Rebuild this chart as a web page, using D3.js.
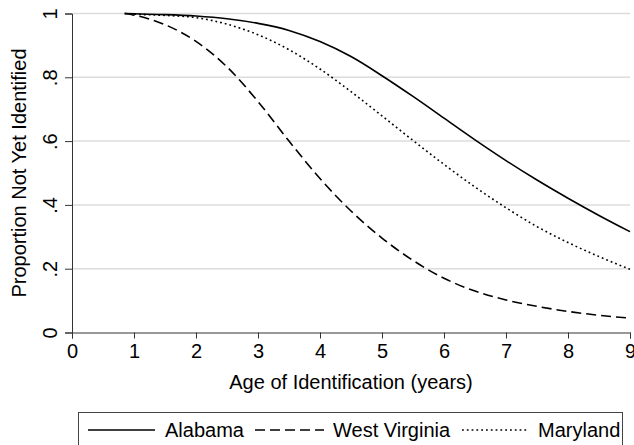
<!DOCTYPE html>
<html>
<head>
<meta charset="utf-8">
<script src="https://cdn.jsdelivr.net/npm/d3@7"></script>
<style>
  html, body { margin: 0; padding: 0; background: #fff; }
  svg text { font-family: "Liberation Sans", Arial, Helvetica, sans-serif; fill: #000; }
</style>
</head>
<body>
<svg id="chart" width="634" height="445"></svg>
<script>
// ---- data ----
const ages = [0.85, 1, 1.5, 2, 2.5, 3, 3.5, 4, 4.5, 5, 5.5, 6, 6.5, 7, 7.5, 8, 8.5, 9];
const alabama = [1.0, 0.999, 0.9965, 0.992, 0.9835, 0.969, 0.947, 0.912, 0.865, 0.805, 0.740, 0.672, 0.604, 0.539, 0.478, 0.421, 0.367, 0.316];
const westVirginia = [1.0, 0.995, 0.965, 0.9125, 0.8325, 0.724, 0.600, 0.4825, 0.381, 0.296, 0.226, 0.170, 0.130, 0.102, 0.082, 0.066, 0.054, 0.045];
const maryland = [1.0, 0.998, 0.994, 0.987, 0.9665, 0.9335, 0.8865, 0.826, 0.755, 0.679, 0.602, 0.527, 0.456, 0.391, 0.332, 0.282, 0.238, 0.198];
const seriesNames = ["Alabama", "West Virginia", "Maryland"];
const xTicks = [0, 1, 2, 3, 4, 5, 6, 7, 8, 9];
const yTicks = [0, 0.2, 0.4, 0.6, 0.8, 1];
const yTickLabels = ["0", ".2", ".4", ".6", ".8", "1"];
const xTitle = "Age of Identification (years)";
const yTitle = "Proportion Not Yet Identified";

// ---- drawing ----
const svg = d3.select("#chart");
const FS = 20;
const x = d3.scaleLinear().domain([0, 9]).range([72, 630]);
const y = d3.scaleLinear().domain([0, 1]).range([332.5, 13.5]);

// gridlines
svg.append("g").selectAll("line").data(yTicks.filter(d => d > 0)).join("line")
  .attr("x1", x(0)).attr("x2", x(9))
  .attr("y1", d => y(d)).attr("y2", d => y(d))
  .attr("stroke", "#dcdcdc").attr("stroke-width", 1.5);

// y axis
const yAxis = d3.axisLeft(y).tickValues(yTicks).tickFormat((d, i) => yTickLabels[i]).tickSize(7).tickPadding(8);
const gy = svg.append("g").attr("transform", `translate(${x(0)},0)`).call(yAxis);
gy.select(".domain").attr("stroke", "#333");
gy.selectAll(".tick line").attr("stroke", "#333");
gy.selectAll(".tick text")
  .attr("font-size", FS).attr("font-family", "Liberation Sans, Arial, sans-serif")
  .attr("x", null).attr("dy", null)
  .attr("text-anchor", "middle")
  .attr("transform", "translate(-15,0) rotate(-90)")
  .attr("y", 0);

// x axis
const xAxis = d3.axisBottom(x).tickValues(xTicks).tickFormat(d3.format("d")).tickSize(6).tickPadding(5);
const gx = svg.append("g").attr("transform", `translate(0,${y(0)})`).call(xAxis);
gx.select(".domain").attr("stroke", "#333");
gx.selectAll(".tick line").attr("stroke", "#333");
gx.selectAll(".tick text").attr("font-size", FS).attr("font-family", "Liberation Sans, Arial, sans-serif");

// titles
svg.append("text").attr("x", (x(0) + x(9)) / 2).attr("y", 389)
  .attr("text-anchor", "middle").attr("font-size", FS).text(xTitle);
svg.append("text").attr("transform", `translate(26,${(y(0) + y(1)) / 2}) rotate(-90)`)
  .attr("text-anchor", "middle").attr("font-size", FS).text(yTitle);

// lines
const styles = [
  { data: alabama, dash: null },
  { data: westVirginia, dash: "10,5" },
  { data: maryland, dash: "1.8,3" }
];
const line = d3.line().x(d => x(d[0])).y(d => y(d[1])).curve(d3.curveMonotoneX);
svg.append("g").selectAll("path").data(styles).join("path")
  .attr("d", s => line(ages.map((a, i) => [a, s.data[i]])))
  .attr("fill", "none").attr("stroke", "#000").attr("stroke-width", 1.6)
  .attr("stroke-dasharray", s => s.dash);

// legend
const lg = svg.append("g");
lg.append("rect").attr("x", 78.5).attr("y", 412.5).attr("width", 544).attr("height", 60)
  .attr("fill", "#fff").attr("stroke", "#444").attr("stroke-width", 1);
const legendItems = [
  { x1: 88, x2: 155, tx: 165, dash: null },
  { x1: 255, x2: 324, tx: 333, dash: "10,5" },
  { x1: 462, x2: 529, tx: 538, dash: "1.8,3" }
];
legendItems.forEach((it, i) => {
  lg.append("line").attr("x1", it.x1).attr("x2", it.x2).attr("y1", 430).attr("y2", 430)
    .attr("stroke", "#000").attr("stroke-width", 1.6).attr("stroke-dasharray", it.dash);
  lg.append("text").attr("x", it.tx).attr("y", 437).attr("font-size", FS).text(seriesNames[i]);
});
</script>
</body>
</html>
